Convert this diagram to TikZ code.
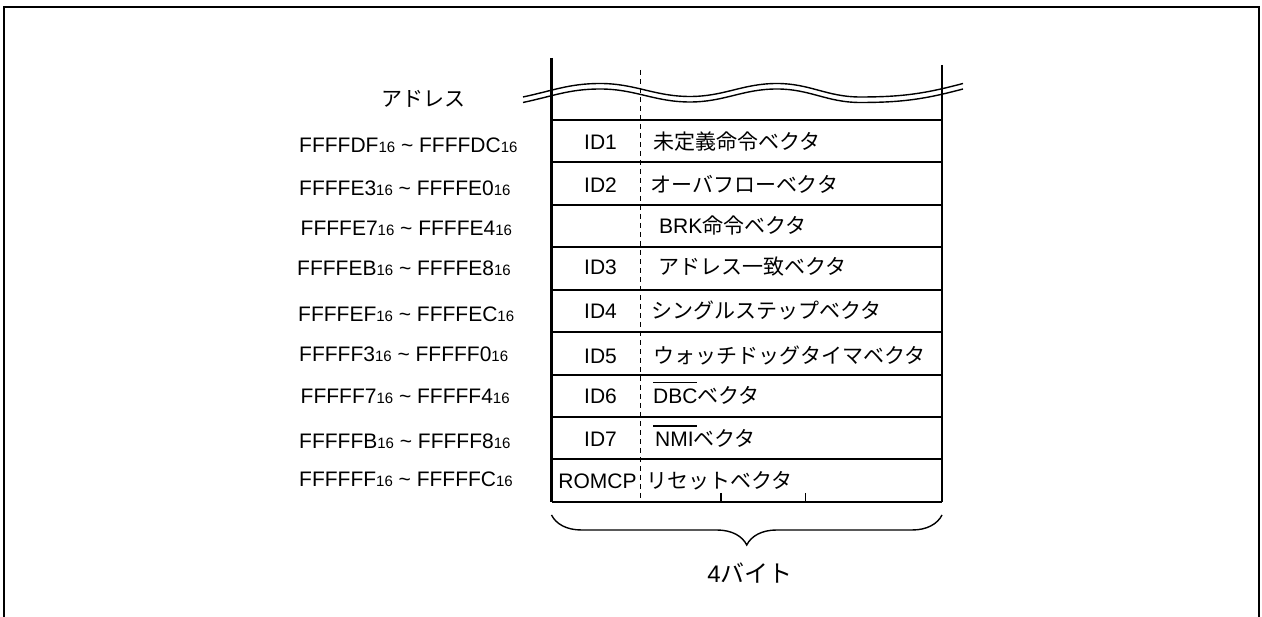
\documentclass[tikz,border=0pt]{standalone}
\usepackage{fontspec}
\setmainfont{Liberation Sans}
\newfontfamily\jpfont{Noto Sans CJK JP}
\usetikzlibrary{decorations.pathreplacing}
\newcommand{\ja}[1]{{\jpfont\fontsize{21}{25}\selectfont #1}}
\newcommand{\hexsub}{{\fontsize{15}{15}\selectfont 16}}
\newcommand{\hexrange}[2]{#1\hexsub\ \textasciitilde\ #2\hexsub}
\newcommand{\barred}[2]{\leavevmode\rlap{\rule[\dimexpr\fontcharht\font`D+5.5pt\relax]{#1}{1.4pt}}#2}

\begin{document}
\begin{tikzpicture}[x=1pt, y=1pt, every node/.style={inner sep=0pt, font=\fontsize{21}{25}\selectfont}, addr/.style={anchor=base west}, idtag/.style={anchor=base}, vec/.style={anchor=base west}, rowline/.style={line width=1.8pt}, wall/.style={line width=2.6pt}, wave/.style={line width=1.4pt}]
        \useasboundingbox (0,0) rectangle (1262,617);
        \draw[line width=2.6pt] (4,0) -- (4,610) -- (1259,610) -- (1259,0);
        \coordinate (tl) at (551.5,559);
        \coordinate (bl) at (551.5,115);
        \coordinate (tr) at (942,552);
        \coordinate (br) at (942,115);
        \coordinate (dt) at (640.5,547);
        \coordinate (db) at (640.5,115);
        \draw[wave] (523,520) to[out=12,in=180] (600,533.5) to[out=0,in=180] (690,520.5) to[out=0,in=180] (777,533.5) to[out=0,in=180] (860,520) to[out=0,in=195] (963,533.5);
        \draw[wave] (523,514.5) to[out=12,in=180] (600,528) to[out=0,in=180] (690,515) to[out=0,in=180] (777,528) to[out=0,in=180] (860,514.5) to[out=0,in=195] (963,528);
        \draw[wall] (tl) -- (bl);
        \draw[wall] (tr) -- (br);
        \draw[line width=1.6pt, dash pattern=on 5pt off 4pt] (dt) -- (db);
        \draw[rowline] (551.5,497) -- (942,497);
        \draw[rowline] (551.5,455) -- (942,455);
        \draw[rowline] (551.5,412) -- (942,412);
        \draw[rowline] (551.5,370) -- (942,370);
        \draw[rowline] (551.5,327) -- (942,327);
        \draw[rowline] (551.5,285) -- (942,285);
        \draw[rowline] (551.5,242) -- (942,242);
        \draw[rowline] (551.5,200) -- (942,200);
        \draw[rowline] (551.5,158) -- (942,158);
        \draw[wall] (bl) -- (br);
        \draw[line width=1.5pt] (721,124) -- (721,115);
        \draw[line width=1.5pt] (805.5,124) -- (805.5,115);
        \node[idtag] (head) at (423,510) {\ja{アドレス}};
        \node[addr] (a1) at (299,464.3) {\hexrange{FFFFDF}{FFFFDC}};
        \node[addr] (a2) at (299,421) {\hexrange{FFFFE3}{FFFFE0}};
        \node[addr] (a3) at (300.5,381) {\hexrange{FFFFE7}{FFFFE4}};
        \node[addr] (a4) at (297,341.3) {\hexrange{FFFFEB}{FFFFE8}};
        \node[addr] (a5) at (298,295.3) {\hexrange{FFFFEF}{FFFFEC}};
        \node[addr] (a6) at (299,255.3) {\hexrange{FFFFF3}{FFFFF0}};
        \node[addr] (a7) at (300.5,213) {\hexrange{FFFFF7}{FFFFF4}};
        \node[addr] (a8) at (299,168.7) {\hexrange{FFFFFB}{FFFFF8}};
        \node[addr] (a9) at (299,130.3) {\hexrange{FFFFFF}{FFFFFC}};
        \node[idtag] (id1) at (600.5,467) {ID1};
        \node[idtag] (id2) at (600.5,424.3) {ID2};
        \node[idtag] (id3) at (600.5,342) {ID3};
        \node[idtag] (id4) at (600.5,298.7) {ID4};
        \node[idtag] (id5) at (600.5,253.7) {ID5};
        \node[idtag] (id6) at (600.5,213.7) {ID6};
        \node[idtag] (id7) at (600.5,170.3) {ID7};
        \node[idtag] (romcp) at (597.5,128.7) {ROMCP};
        \node[vec] (v1) at (653,467) {\ja{未定義命令ベクタ}};
        \node[vec] (v2) at (650,424.3) {\ja{オーバフローベクタ}};
        \node[vec] (v3) at (659,383) {BRK\ja{命令ベクタ}};
        \node[vec] (v4) at (658,342) {\ja{アドレス一致ベクタ}};
        \node[vec] (v5) at (651.5,298.7) {\ja{シングルステップベクタ}};
        \node[vec] (v6) at (653,253.7) {\ja{ウォッチドッグタイマベクタ}};
        \node[vec] (v7) at (653,213.7) {\barred{44pt}{DBC}\ja{ベクタ}};
        \node[vec] (v8) at (653,170.3) {\barred{44pt}{\hspace{2pt}NMI}\ja{ベクタ}};
        \node[vec] (v9) at (646,128.7) {\ja{リセットベクタ}};
        \draw[line width=1.4pt, decorate, decoration={brace, amplitude=30pt, mirror}] (551.5,102) -- (942,102);
        \node[idtag] (bytes) at (750,34) {\fontsize{24}{28}\selectfont 4{\jpfont バイト}};
    \end{tikzpicture}
\end{document}
